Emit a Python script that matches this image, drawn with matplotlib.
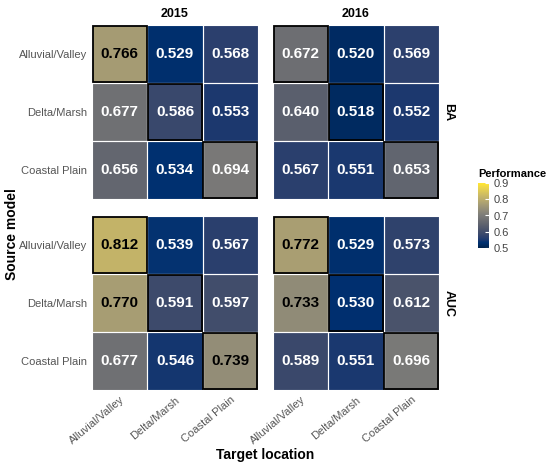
import numpy as np
import matplotlib.pyplot as plt
from matplotlib.patches import Rectangle

regions = ["Alluvial/Valley", "Delta/Marsh", "Coastal Plain"]
years = ["2015", "2016"]
metrics = ["BA", "AUC"]

# rows = source model, cols = target location
ba_2015 = [[0.766, 0.529, 0.568],
           [0.677, 0.586, 0.553],
           [0.656, 0.534, 0.694]]
ba_2016 = [[0.672, 0.520, 0.569],
           [0.640, 0.518, 0.552],
           [0.567, 0.551, 0.653]]
auc_2015 = [[0.812, 0.539, 0.567],
            [0.770, 0.591, 0.597],
            [0.677, 0.546, 0.739]]
auc_2016 = [[0.772, 0.529, 0.573],
            [0.733, 0.530, 0.612],
            [0.589, 0.551, 0.696]]

panels = {("BA", "2015"): ba_2015, ("BA", "2016"): ba_2016,
          ("AUC", "2015"): auc_2015, ("AUC", "2016"): auc_2016}

plt.rcParams['font.family'] = ['Liberation Sans', 'DejaVu Sans']
fig = plt.figure(figsize=(5.5, 4.69), dpi=100)

W, H = 550, 469
xs = [92, 273]
pw = 166
ys = [25, 216]
ph = 174

for r, m in enumerate(metrics):
    for c, yr in enumerate(years):
        ax = fig.add_axes([xs[c] / W, 1 - (ys[r] + ph) / H, pw / W, ph / H])
        data = np.array(panels[(m, yr)])
        im = ax.imshow(data, cmap="cividis", vmin=0.5, vmax=0.9, aspect="auto")
        for i in range(3):
            for j in range(3):
                ax.add_patch(Rectangle((j - 0.5, i - 0.5), 1, 1, fill=False,
                                       edgecolor="white", lw=0.8))
        for i in range(3):
            ax.add_patch(Rectangle((i - 0.5 + 0.01, i - 0.5 + 0.01), 0.98, 0.98,
                                   fill=False, edgecolor="black", lw=1.3, zorder=3))
        for i in range(3):
            for j in range(3):
                v = data[i, j]
                ax.text(j, i, f"{v:.3f}", ha="center", va="center",
                        fontsize=11, fontweight="bold",
                        color="black" if v > 0.7 else "white")
        for s in ax.spines.values():
            s.set_visible(False)
        ax.tick_params(length=0, colors="#555555", labelsize=8)
        if c == 0:
            ax.set_yticks(range(3))
            ax.set_yticklabels(regions)
        else:
            ax.set_yticks([])
        if r == 1:
            ax.set_xticks(range(3))
            ax.set_xticklabels(regions, rotation=40, ha="right",
                               rotation_mode="anchor")
        else:
            ax.set_xticks([])
        if r == 0:
            ax.set_title(yr, fontsize=9, fontweight="bold", pad=6)
        if c == 1:
            ax.text(1.02, 0.5, m, transform=ax.transAxes, rotation=270,
                    ha="left", va="center", fontsize=9, fontweight="bold")

cax = fig.add_axes([478 / W, 1 - 248 / H, 11 / W, 65 / H])
cb = fig.colorbar(im, cax=cax, ticks=[0.5, 0.6, 0.7, 0.8, 0.9])
cb.outline.set_visible(False)
cb.ax.tick_params(length=3, color="white", direction="in", labelsize=8,
                  labelcolor="#444444")
cb.ax.set_title("Performance", fontsize=8, fontweight="bold", loc="left",
                pad=4)

fig.text(12 / W, 0.5, "Source model", rotation=90, ha="center", va="center",
         fontsize=10, fontweight="bold")
fig.text(265 / W, 1 - 455 / H, "Target location", ha="center", va="center",
         fontsize=10, fontweight="bold")

fig.savefig("out.png", dpi=100)
